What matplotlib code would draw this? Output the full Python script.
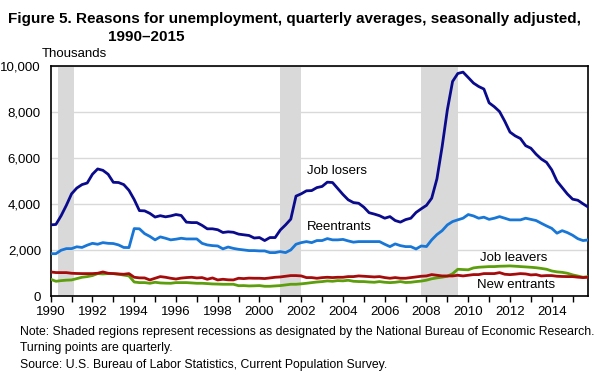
import matplotlib
matplotlib.use('Agg')
import matplotlib.pyplot as plt
from matplotlib.ticker import FuncFormatter, MultipleLocator
import numpy as np

# quarterly averages, thousands, 1990Q1 - 2015Q4
years = list(range(1990, 2016))

job_losers = [
    3100, 3120, 3500, 3950,   4450, 4700, 4850, 4920,   5300, 5530, 5470, 5300,
    4950, 4940, 4850, 4600,   4200, 3720, 3710, 3600,   3440, 3500, 3450, 3490,
    3550, 3510, 3220, 3200,   3200, 3080, 2930, 2930,   2890, 2770, 2800, 2780,
    2700, 2670, 2640, 2530,   2550, 2420, 2550, 2550,   2880, 3100, 3350, 4350,
    4450, 4580, 4590, 4720,   4770, 4956, 4940, 4680,   4420, 4190, 4070, 4040,
    3870, 3630, 3570, 3500,   3390, 3460, 3290, 3220,   3330, 3390, 3640, 3800,
    3950, 4260, 5100, 6500,   8100, 9330, 9675, 9735,   9500, 9260, 9110, 9000,
    8400, 8230, 8020, 7600,   7130, 6965, 6850, 6540,   6430, 6170, 5960, 5815,
    5490, 5000, 4720, 4440,   4217, 4170, 4015, 3870,
]
reentrants = [
    1850, 1850, 2000, 2070,   2070, 2150, 2120, 2220,   2300, 2260, 2330, 2300,
    2290, 2230, 2120, 2115,   2940, 2930, 2720, 2600,   2450, 2580, 2520, 2450,
    2480, 2520, 2490, 2490,   2490, 2300, 2230, 2200,   2185, 2060, 2140, 2080,
    2040, 2013, 1984, 1984,   1970, 1970, 1897, 1897,   1940, 1897, 2013, 2260,
    2330, 2375, 2330, 2420,   2420, 2505, 2450, 2450,   2470, 2405, 2350, 2375,
    2375, 2375, 2375, 2375,   2260, 2157, 2275, 2200,   2157, 2157, 2055, 2185,
    2160, 2450, 2680, 2850,   3100, 3245, 3320, 3390,   3550, 3490, 3390, 3435,
    3340, 3390, 3460, 3390,   3318, 3318, 3318, 3390,   3340, 3290, 3170, 3055,
    2950, 2740, 2850, 2765,   2650, 2500, 2420, 2448,
]
job_leavers = [
    739, 652, 681, 700,   710, 768, 826, 855,   900, 985, 971, 985,
    985, 957, 920, 884,   620, 594, 594, 565,   609, 580, 570, 565,
    594, 594, 594, 580,   565, 565, 551, 536,   530, 522, 522, 522,
    460, 464, 449, 455,   464, 435, 435, 450,   464, 493, 522, 522,
    540, 565, 594, 620,   638, 667, 652, 681,   670, 696, 652, 640,
    638, 620, 609, 638,   609, 594, 609, 638,   600, 609, 638, 660,
    700, 760, 800, 830,   870, 980, 1174, 1160,   1150, 1232, 1261, 1275,
    1290, 1290, 1305, 1310,   1319, 1305, 1290, 1275,   1260, 1240, 1210, 1174,
    1100, 1060, 1040, 1000,   930, 880, 826, 855,
]
new_entrants = [
    1057, 1030, 1028, 1028,   1000, 990, 985, 985,   985, 1000, 1057, 1000,
    985, 970, 957, 985,   826, 800, 797, 710,   783, 855, 826, 783,
    750, 790, 812, 826,   797, 812, 739, 797,   710, 739, 715, 710,
    783, 768, 790, 783,   783, 770, 797, 826,   840, 870, 899, 899,
    884, 812, 812, 783,   810, 826, 812, 826,   826, 855, 855, 884,
    870, 855, 840, 855,   812, 783, 812, 783,   783, 812, 840, 870,
    884, 942, 913, 884,   884, 884, 913, 884,   913, 942, 942, 985,
    985, 985, 1028, 957,   940, 960, 985, 971,   928, 942, 884, 899,
    899, 870, 860, 855,   855, 830, 812, 826,
]
# NBER recessions (start, end) in fractional years
recessions = [(1990.33, 1991.1), (2001.0, 2002.0), (2007.75, 2009.5)]

plt.rcParams['font.family'] = ['Liberation Sans', 'DejaVu Sans']

t = np.array([y + q / 4 for y in years for q in range(4)])

fig = plt.figure(figsize=(6.1, 3.75), dpi=100)
ax = fig.add_axes([0.0831, 0.2099, 0.8813, 0.6141])

for start, end in recessions:
    ax.axvspan(start, end, color='#d9d9d9', lw=0, zorder=0)

ax.plot(t, job_losers, color='#0a0a8c', lw=2, zorder=3)
ax.plot(t, reentrants, color='#1877d6', lw=2, zorder=3)
ax.plot(t, job_leavers, color='#5c9e0c', lw=2, zorder=3)
ax.plot(t, new_entrants, color='#a50b0b', lw=2, zorder=4)

ax.set_xlim(1990, 2015.75)
ax.set_ylim(0, 10000)
ax.yaxis.grid(True, color='#d9d9d9', lw=1)
ax.set_axisbelow(True)
ax.yaxis.set_major_locator(MultipleLocator(2000))
ax.yaxis.set_major_formatter(FuncFormatter(lambda v, p: f'{int(v):,}'))
ax.tick_params(axis='y', length=0, labelsize=9.5, pad=7)
ax.set_xticks(range(1990, 2016, 2))
ax.set_xticks(range(1991, 2016, 2), minor=True)
ax.tick_params(axis='x', which='both', direction='out', length=4, width=1,
               labelsize=9.5, pad=3)
for s in ax.spines.values():
    s.set_linewidth(1.2)

ax.text(2002.27, 5450, 'Job losers', fontsize=9.5, va='center')
ax.text(2002.27, 2990, 'Reentrants', fontsize=9.5, va='center')
ax.text(2010.56, 1643, 'Job leavers', fontsize=9.5, va='center')
ax.text(2010.41, 490, 'New entrants', fontsize=9.5, va='center')

fig.text(8 / 610, 1 - 23 / 375, 'Figure 5. Reasons for unemployment, quarterly averages, seasonally adjusted,',
         fontsize=11, fontweight='bold', va='baseline')
fig.text(108 / 610, 1 - 41 / 375, '1990\u20132015', fontsize=11, fontweight='bold', va='baseline')
fig.text(42 / 610, 1 - 57 / 375, 'Thousands', fontsize=9.5, va='baseline')

notes = ('Note: Shaded regions represent recessions as designated by the National Bureau of Economic Research.\n'
         'Turning points are quarterly.\n'
         'Source: U.S. Bureau of Labor Statistics, Current Population Survey.')
fig.text(20 / 610, 1 - 326 / 375, notes, fontsize=8.8, va='top', linespacing=1.5)

fig.savefig('out.png', dpi=100)
